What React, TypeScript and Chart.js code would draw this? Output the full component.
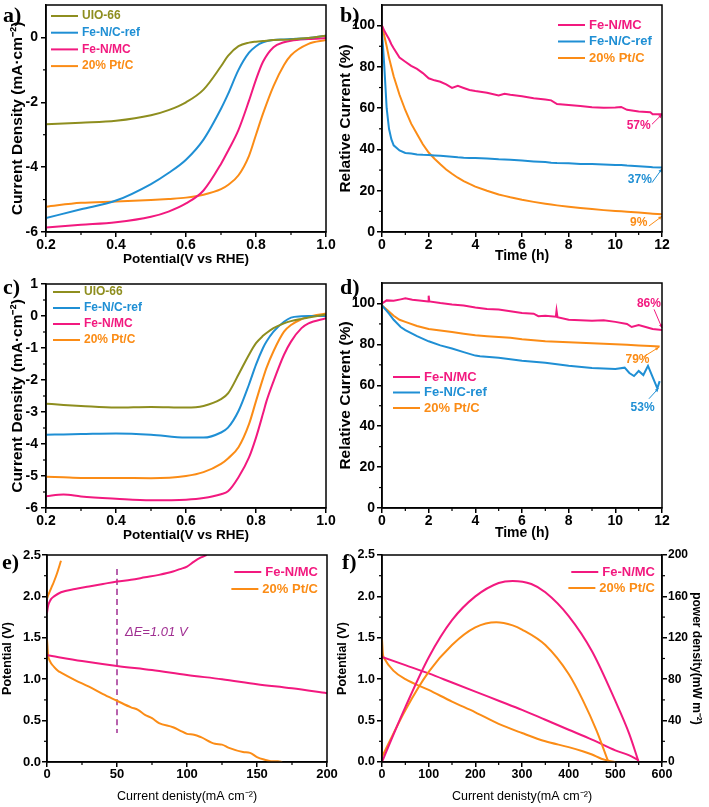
import React, { useEffect, useRef } from "react";
import { Chart, registerables } from "chart.js";

Chart.register(...registerables);

// ---------------- data ----------------
// a) LSV curves
const aPotential = [0.2, 0.3, 0.4, 0.5, 0.55, 0.6, 0.65, 0.7, 0.72, 0.75, 0.78, 0.8, 0.82, 0.85, 0.88, 0.9, 0.95, 1.0];
const aUio = [-2.68, -2.63, -2.57, -2.4, -2.24, -2.0, -1.61, -0.89, -0.57, -0.27, -0.16, -0.13, -0.11, -0.08, -0.07, -0.06, -0.02, 0.05];
const aRef = [-5.57, -5.3, -5.03, -4.52, -4.18, -3.77, -3.15, -2.2, -1.75, -1.0, -0.47, -0.27, -0.15, -0.08, -0.06, -0.05, -0.02, 0.05];
const aMc = [-5.86, -5.78, -5.7, -5.53, -5.37, -5.12, -4.72, -3.9, -3.5, -2.85, -1.95, -1.3, -0.75, -0.3, -0.15, -0.1, -0.05, -0.02];
const aPt = [-5.22, -5.1, -5.06, -5.01, -4.98, -4.94, -4.85, -4.68, -4.55, -4.25, -3.65, -3.0, -2.35, -1.5, -0.85, -0.55, -0.2, -0.08];

// b) chronoamperometry
const bTime = [0, 0.1, 0.2, 0.3, 0.4, 0.5, 0.75, 1, 1.25, 1.5, 1.75, 2, 2.25, 2.5, 2.75, 3, 3.25, 3.5, 3.75, 4, 4.5, 5, 5.25, 5.5, 6, 6.5, 7, 7.25, 7.5, 8, 8.5, 9, 9.5, 10, 10.25, 10.5, 11, 11.5, 11.6, 12];
const bMc = [100, 97.5, 95.5, 93.5, 91, 89, 84.5, 82.5, 80.5, 79, 77, 74.5, 73.5, 72.8, 71.5, 69.8, 70.8, 69.8, 68.8, 68.3, 67.5, 66.2, 67, 66.5, 65.8, 64.8, 64.2, 63.8, 62, 61.5, 61, 60.5, 60.2, 60.3, 60.6, 59.2, 58.4, 58, 57, 57];
const bRef = [97, 80, 60, 50, 45, 42, 39.5, 38.3, 38, 37.6, 37.4, 37.3, 37.1, 36.9, 36.7, 36.5, 36.2, 36, 35.9, 35.8, 35.6, 35.2, 35.1, 35, 34.6, 34.2, 33.9, 33.6, 33.4, 33.3, 33, 32.9, 32.7, 32.5, 32.5, 32.2, 31.9, 31.5, 31.4, 31.2];
const bPt = [100, 95, 90, 84.5, 80, 75.5, 66.5, 59, 52.5, 47.5, 42.5, 38.5, 35.5, 32.8, 30.3, 28.2, 26.3, 24.7, 23.3, 22, 20, 18.2, 17.5, 16.8, 15.6, 14.6, 13.7, 13.3, 12.9, 12.2, 11.6, 11.1, 10.6, 10.2, 10, 9.8, 9.4, 9.0, 8.9, 8.6];

// c) LSV curves
const cPotential = [0.2, 0.25, 0.3, 0.4, 0.5, 0.6, 0.65, 0.7, 0.72, 0.75, 0.78, 0.8, 0.82, 0.83, 0.85, 0.88, 0.9, 0.93, 0.95, 1.0];
const cUio = [-2.74, -2.78, -2.81, -2.86, -2.84, -2.86, -2.81, -2.6, -2.42, -1.83, -1.21, -0.85, -0.62, -0.53, -0.38, -0.23, -0.16, -0.09, -0.05, 0.05];
const cRef = [-3.71, -3.7, -3.69, -3.67, -3.71, -3.8, -3.8, -3.64, -3.49, -2.97, -2.14, -1.52, -1.0, -0.8, -0.49, -0.18, -0.05, -0.01, 0, 0];
const cMc = [-5.63, -5.58, -5.64, -5.71, -5.76, -5.74, -5.69, -5.57, -5.48, -5.04, -4.42, -3.8, -3.05, -2.66, -2.04, -1.21, -0.8, -0.38, -0.23, -0.07];
const cPt = [-5.02, -5.04, -5.06, -5.06, -5.07, -5.0, -4.88, -4.62, -4.45, -4.1, -3.38, -2.66, -1.95, -1.62, -1.1, -0.49, -0.28, -0.1, -0.02, 0.08];

// d) chronoamperometry (second test)
const dMcTime = [0, 0.2, 0.5, 0.8, 1, 1.3, 1.6, 1.98, 2, 2.03, 2.5, 3, 3.5, 4, 4.5, 5, 5.5, 6, 6.5, 6.7, 7, 7.45, 7.48, 7.52, 8, 8.5, 9, 9.5, 10, 10.5, 10.7, 11, 11.3, 11.6, 12];
const dMc = [100, 101.5, 101.3, 102, 102.5, 101.8, 101.5, 101, 103.8, 101, 100.2, 99.5, 99, 98, 97.3, 97, 96.2, 95.3, 95, 93.8, 94, 93.5, 96.5, 93.3, 92, 91.8, 91.5, 91.8, 91, 90, 88.5, 89.5, 88.5, 87.5, 87];
const dRefTime = [0, 0.3, 0.5, 0.8, 1, 1.5, 2, 2.5, 3, 3.5, 4, 4.2, 5, 6, 7, 8, 9, 9.5, 10, 10.4, 10.6, 10.8, 11, 11.2, 11.4, 11.6, 11.8, 11.9];
const dRef = [99, 95, 92, 88.5, 87, 84, 81.5, 79.5, 78, 76.2, 74.5, 74.2, 73.5, 72, 71, 69.5, 68.5, 68.2, 68, 68.6, 66, 64.5, 67, 65, 69.5, 64, 58.5, 62];
const dPtTime = [0, 0.25, 0.5, 0.75, 1, 1.5, 2, 2.5, 3, 3.5, 4, 4.5, 5, 5.5, 6, 6.5, 7, 7.5, 8, 8.5, 9, 9.5, 10, 10.5, 11, 11.5, 11.9];
const dPt = [99, 96.5, 94, 92, 91, 89, 87.5, 86.8, 86, 85.2, 84.5, 84, 83.6, 83.2, 82.5, 82, 81.5, 81.3, 81, 80.8, 80.5, 80.3, 80, 79.8, 79.5, 79.2, 79];

// e) charge / discharge polarization
const eMcChargeX = [0, 0.5, 1, 2, 3, 5, 10, 20, 30, 40, 50, 60, 70, 80, 90, 95, 100, 105, 110, 114];
const eMcChargeY = [1.8, 1.86, 1.9, 1.94, 1.97, 2.0, 2.05, 2.09, 2.12, 2.15, 2.18, 2.2, 2.23, 2.26, 2.3, 2.33, 2.36, 2.42, 2.47, 2.5];
const ePtChargeX = [0, 1, 2, 3, 5, 7, 10];
const ePtChargeY = [1.97, 2.02, 2.06, 2.1, 2.18, 2.27, 2.43];
const eMcDischargeX = [0, 25, 50, 75, 100, 125, 150, 175, 200];
const eMcDischargeY = [1.29, 1.22, 1.16, 1.11, 1.05, 1.0, 0.94, 0.89, 0.83];
const ePtDischargeX = [0, 0.3, 0.7, 2, 5, 8, 10, 20, 30, 40, 50, 60, 65, 70, 75, 80, 90, 95, 100, 105, 110, 120, 125, 130, 140, 145, 150, 155, 160, 165, 168];
const ePtDischargeY = [1.48, 1.4, 1.3, 1.22, 1.15, 1.1, 1.08, 0.99, 0.91, 0.82, 0.74, 0.66, 0.63, 0.57, 0.53, 0.47, 0.42, 0.38, 0.34, 0.33, 0.3, 0.22, 0.21, 0.17, 0.12, 0.11, 0.06, 0.03, 0.01, 0.01, 0];
const eDashX = [50, 50];
const eDashY = [2.33, 0.35];

// f) polarization and power density
const fMcPolX = [0, 50, 100, 150, 200, 250, 300, 350, 400, 450, 500, 530, 550];
const fMcPolY = [1.27, 1.17, 1.07, 0.96, 0.85, 0.74, 0.63, 0.51, 0.39, 0.27, 0.14, 0.08, 0.02];
const fPtPolX = [0, 2, 5, 25, 50, 100, 150, 200, 250, 300, 350, 400, 430, 450, 470, 490, 500];
const fPtPolY = [1.48, 1.3, 1.25, 1.1, 1.0, 0.87, 0.73, 0.6, 0.46, 0.35, 0.25, 0.18, 0.13, 0.09, 0.04, 0.01, 0];
const fMcPowX = [0, 25, 50, 100, 150, 200, 250, 280, 320, 350, 400, 450, 500, 530, 550];
const fMcPowY = [0, 27, 53, 101, 137, 160, 173, 175, 172, 164, 141, 107, 59, 27, 0];
const fPtPowX = [0, 50, 100, 150, 200, 245, 280, 300, 350, 400, 430, 460, 485];
const fPtPowY = [5, 50, 87, 113, 130, 135, 132, 128, 113, 85, 60, 30, 0];

// tick labels
const potentialTicks = [0.2, 0.4, 0.6, 0.8, 1.0];
const aDensityTicks = [-6, -4, -2, 0];
const cDensityTicks = [-6, -5, -4, -3, -2, -1, 0, 1];
const timeTicks = [0, 2, 4, 6, 8, 10, 12];
const relativeTicks = [0, 20, 40, 60, 80, 100];
const eCurrentTicks = [0, 50, 100, 150, 200];
const voltTicks = [0, 0.5, 1.0, 1.5, 2.0, 2.5];
const fCurrentTicks = [0, 100, 200, 300, 400, 500, 600];
const powerTicks = [0, 40, 80, 120, 160, 200];

// ---------------- styling helpers ----------------
const FONT = "'Liberation Sans', Arial, sans-serif";
const C_UIO = "#8e8e1f";
const C_REF = "#1f8fd4";
const C_MC = "#f2197f";
const C_PT = "#fb8c16";
const C_DE = "#a02f92";

const pts = (xs: number[], ys: number[]) => xs.map((x, i) => ({ x, y: ys[i] }));
const fmt0 = (v: number) => String(v);
const fmt1 = (v: number) => v.toFixed(1);

function line(label: string, xs: number[], ys: number[], color: string, extra: any = {}) {
  return {
    label,
    data: pts(xs, ys),
    borderColor: color,
    backgroundColor: color,
    borderWidth: 2,
    pointRadius: 0,
    tension: 0,
    fill: false,
    legend: true,
    ...extra,
  };
}

function axis(o: any) {
  const horizontal = o.position === "bottom" || o.position === "top";
  return {
    type: "linear",
    position: o.position,
    min: o.min,
    max: o.max,
    afterBuildTicks: (s: any) => {
      s.ticks = o.ticks.map((v: number) => ({ value: v }));
    },
    afterFit: (s: any) => {
      if (horizontal) s.height = o.size;
      else s.width = o.size;
      s.paddingTop = 0;
      s.paddingBottom = 0;
      s.paddingLeft = 0;
      s.paddingRight = 0;
    },
    ticks: {
      callback: (v: number) => o.fmt(v),
      font: { family: FONT, size: o.tickSize ?? 14, weight: "bold" },
      color: "#000",
      padding: o.tickPad ?? 2,
      maxRotation: 0,
      minRotation: 0,
      autoSkip: false,
    },
    grid: { display: true, drawOnChartArea: false, drawTicks: true, tickLength: 5, color: "#000", lineWidth: 1.5 },
    border: { display: true, color: "#000", width: 1.5 },
    title: {
      display: true,
      text: o.title,
      font: { family: FONT, size: o.titleSize ?? 13.5, weight: o.titleWeight ?? "bold" },
      color: "#000",
      padding: o.titlePad,
    },
  };
}

const framePlugin = {
  id: "frameMinor",
  afterDraw(chart: any) {
    const { ctx, chartArea: ca } = chart;
    ctx.save();
    ctx.strokeStyle = "#000";
    ctx.lineWidth = 1.5;
    ctx.strokeRect(ca.left, ca.top, ca.right - ca.left, ca.bottom - ca.top);
    ctx.lineWidth = 1.2;
    Object.values(chart.scales).forEach((s: any) => {
      const vals = s.ticks.map((t: any) => t.value);
      for (let i = 0; i < vals.length - 1; i++) {
        const p = s.getPixelForValue((vals[i] + vals[i + 1]) / 2);
        ctx.beginPath();
        if (s.position === "bottom") {
          ctx.moveTo(p, ca.bottom);
          ctx.lineTo(p, ca.bottom + 3);
        } else if (s.position === "left") {
          ctx.moveTo(ca.left, p);
          ctx.lineTo(ca.left - 3, p);
        } else if (s.position === "right") {
          ctx.moveTo(ca.right, p);
          ctx.lineTo(ca.right + 3, p);
        }
        ctx.stroke();
      }
    });
    ctx.restore();
  },
};

function legendPlugin(cfg: { dx: number; dy: number; step: number; align: "left" | "right"; size: number }) {
  return {
    id: "customLegend",
    afterDraw(chart: any) {
      const { ctx, chartArea: ca } = chart;
      const items = chart.data.datasets.filter((d: any) => d.legend);
      const lineLen = 27;
      const gap = 4;
      ctx.save();
      ctx.font = `bold ${cfg.size}px ${FONT}`;
      ctx.textBaseline = "middle";
      ctx.textAlign = "left";
      items.forEach((d: any, i: number) => {
        const y = ca.top + cfg.dy + i * cfg.step;
        let lineX: number, textX: number;
        if (cfg.align === "left") {
          lineX = ca.left + cfg.dx;
          textX = lineX + lineLen + gap;
        } else {
          const w = ctx.measureText(d.label).width;
          textX = ca.right - cfg.dx - w;
          lineX = textX - gap - lineLen;
        }
        ctx.strokeStyle = d.borderColor;
        ctx.lineWidth = 2;
        ctx.beginPath();
        ctx.moveTo(lineX, y);
        ctx.lineTo(lineX + lineLen, y);
        ctx.stroke();
        ctx.fillStyle = d.borderColor;
        ctx.fillText(d.label, textX, y);
      });
      ctx.restore();
    },
  };
}

type Note = { text: string; x: number; y: number; color: string; font?: string; align?: string; arrow?: number[] };

function notesPlugin(notes: Note[]) {
  return {
    id: "notes",
    afterDatasetsDraw(chart: any) {
      const { ctx } = chart;
      const xs = chart.scales.x;
      const ys = chart.scales.y;
      ctx.save();
      notes.forEach((n) => {
        ctx.font = n.font || `bold 12px ${FONT}`;
        ctx.fillStyle = n.color;
        ctx.textAlign = n.align || "center";
        ctx.textBaseline = "middle";
        ctx.fillText(n.text, xs.getPixelForValue(n.x), ys.getPixelForValue(n.y));
        if (n.arrow) {
          const x1 = xs.getPixelForValue(n.arrow[0]);
          const y1 = ys.getPixelForValue(n.arrow[1]);
          const x2 = xs.getPixelForValue(n.arrow[2]);
          const y2 = ys.getPixelForValue(n.arrow[3]);
          ctx.strokeStyle = n.color;
          ctx.lineWidth = 1;
          ctx.beginPath();
          ctx.moveTo(x1, y1);
          ctx.lineTo(x2, y2);
          ctx.stroke();
          const ang = Math.atan2(y2 - y1, x2 - x1);
          const h = 4;
          ctx.beginPath();
          ctx.moveTo(x2, y2);
          ctx.lineTo(x2 - h * Math.cos(ang - 0.45), y2 - h * Math.sin(ang - 0.45));
          ctx.lineTo(x2 - h * Math.cos(ang + 0.45), y2 - h * Math.sin(ang + 0.45));
          ctx.closePath();
          ctx.fill();
        }
      });
      ctx.restore();
    },
  };
}

function baseOptions(padding: any, scales: any) {
  return {
    responsive: false,
    maintainAspectRatio: false,
    animation: false,
    layout: { padding, autoPadding: false },
    plugins: { legend: { display: false }, tooltip: { enabled: false } },
    elements: { line: { cubicInterpolationMode: "monotone" } },
    scales,
  };
}

// ---------------- chart configs ----------------
const buildA = () => ({
  type: "line",
  data: {
    datasets: [
      line("UIO-66", aPotential, aUio, C_UIO),
      line("Fe-N/C-ref", aPotential, aRef, C_REF),
      line("Fe-N/MC", aPotential, aMc, C_MC),
      line("20% Pt/C", aPotential, aPt, C_PT),
    ],
  },
  options: baseOptions({ left: 0, top: 5, right: 14, bottom: 0 }, {
    x: axis({ position: "bottom", min: 0.2, max: 1.0, ticks: potentialTicks, fmt: fmt1, title: "Potential(V vs RHE)", titlePad: { top: 0, bottom: 3 }, size: 38, tickPad: 0 }),
    y: axis({ position: "left", min: -6, max: 1, ticks: aDensityTicks, fmt: fmt0, title: "Current Density (mA·cm⁻²)", titleSize: 15.5, titlePad: { top: 8.5, bottom: 0 }, size: 46, tickPad: 3 }),
  }),
  plugins: [framePlugin, legendPlugin({ dx: 5, dy: 11, step: 16.7, align: "left", size: 12 })],
});

const buildB = () => ({
  type: "line",
  data: {
    datasets: [
      line("Fe-N/MC", bTime, bMc, C_MC, { cubicInterpolationMode: "default" }),
      line("Fe-N/C-ref", bTime, bRef, C_REF, { cubicInterpolationMode: "default" }),
      line("20% Pt/C", bTime, bPt, C_PT, { cubicInterpolationMode: "default" }),
    ],
  },
  options: baseOptions({ left: 0, top: 5, right: 47, bottom: 0 }, {
    x: axis({ position: "bottom", min: 0, max: 12, ticks: timeTicks, fmt: fmt0, title: "Time (h)", titleSize: 14, titlePad: { top: 0, bottom: 5 }, size: 38, tickPad: 0 }),
    y: axis({ position: "left", min: 0, max: 110, ticks: relativeTicks, fmt: fmt0, title: "Relative Current (%)", titleSize: 15.5, titlePad: { top: 2, bottom: 0 }, size: 48, tickPad: 2 }),
  }),
  plugins: [
    framePlugin,
    legendPlugin({ dx: 176, dy: 20, step: 16.5, align: "left", size: 13 }),
    notesPlugin([
      { text: "57%", x: 11.0, y: 51.7, color: C_MC, arrow: [11.57, 52.2, 12.0, 57.0] },
      { text: "37%", x: 11.05, y: 25.4, color: C_REF, arrow: [11.57, 23.9, 12.0, 30.6] },
      { text: "9%", x: 11.0, y: 4.4, color: C_PT, arrow: [11.44, 2.9, 12.0, 7.6] },
    ]),
  ],
});

const buildC = () => ({
  type: "line",
  data: {
    datasets: [
      line("UIO-66", cPotential, cUio, C_UIO),
      line("Fe-N/C-ref", cPotential, cRef, C_REF),
      line("Fe-N/MC", cPotential, cMc, C_MC),
      line("20% Pt/C", cPotential, cPt, C_PT),
    ],
  },
  options: baseOptions({ left: 0, top: 14, right: 14, bottom: 0 }, {
    x: axis({ position: "bottom", min: 0.2, max: 1.0, ticks: potentialTicks, fmt: fmt1, title: "Potential(V vs RHE)", titlePad: { top: 0, bottom: 5 }, size: 40, tickPad: 0 }),
    y: axis({ position: "left", min: -6, max: 1, ticks: cDensityTicks, fmt: fmt0, title: "Current Density (mA·cm⁻²)", titleSize: 15.5, titlePad: { top: 8.5, bottom: 0 }, size: 46, tickPad: 3 }),
  }),
  plugins: [framePlugin, legendPlugin({ dx: 7, dy: 8, step: 16, align: "left", size: 12 })],
});

const buildD = () => ({
  type: "line",
  data: {
    datasets: [
      line("Fe-N/MC", dMcTime, dMc, C_MC, { cubicInterpolationMode: "default" }),
      line("Fe-N/C-ref", dRefTime, dRef, C_REF, { cubicInterpolationMode: "default" }),
      line("20% Pt/C", dPtTime, dPt, C_PT, { cubicInterpolationMode: "default" }),
    ],
  },
  options: baseOptions({ left: 0, top: 13, right: 47, bottom: 0 }, {
    x: axis({ position: "bottom", min: 0, max: 12, ticks: timeTicks, fmt: fmt0, title: "Time (h)", titleSize: 14, titlePad: { top: 0, bottom: 6 }, size: 40, tickPad: 0 }),
    y: axis({ position: "left", min: 0, max: 110, ticks: relativeTicks, fmt: fmt0, title: "Relative Current (%)", titleSize: 15.5, titlePad: { top: 2, bottom: 0 }, size: 48, tickPad: 2 }),
  }),
  plugins: [
    framePlugin,
    legendPlugin({ dx: 11, dy: 94, step: 15.5, align: "left", size: 13 }),
    notesPlugin([
      { text: "86%", x: 11.44, y: 100, color: C_MC, arrow: [11.66, 97.1, 12.0, 88.0] },
      { text: "79%", x: 10.95, y: 72.3, color: C_PT, arrow: [11.19, 73.8, 11.87, 78.6] },
      { text: "53%", x: 11.17, y: 49, color: C_REF, arrow: [11.44, 53.4, 11.85, 58.5] },
    ]),
  ],
});

const buildE = () => ({
  type: "line",
  data: {
    datasets: [
      line("Fe-N/MC", eMcChargeX, eMcChargeY, C_MC),
      line("20% Pt/C", ePtChargeX, ePtChargeY, C_PT),
      line("Fe-N/MC discharge", eMcDischargeX, eMcDischargeY, C_MC, { legend: false }),
      line("20% Pt/C discharge", ePtDischargeX, ePtDischargeY, C_PT, { legend: false }),
      line("ΔE", eDashX, eDashY, C_DE, { legend: false, borderWidth: 1.5, borderDash: [6, 4] }),
    ],
  },
  options: baseOptions({ left: 0, top: 15, right: 13, bottom: 0 }, {
    x: axis({ position: "bottom", min: 0, max: 200, ticks: eCurrentTicks, fmt: fmt0, title: "Current denisty(mA cm⁻²)", titleSize: 12.5, titleWeight: "normal", titlePad: { top: 0, bottom: 3 }, size: 45, tickPad: 0, tickSize: 13 }),
    y: axis({ position: "left", min: 0, max: 2.5, ticks: voltTicks, fmt: fmt1, title: "Potential (V)", titleSize: 12.5, titlePad: { top: 0, bottom: 0 }, size: 47, tickPad: 1, tickSize: 13 }),
  }),
  plugins: [
    framePlugin,
    legendPlugin({ dx: 9, dy: 17, step: 17, align: "right", size: 13 }),
    notesPlugin([{ text: "ΔE=1.01 V", x: 55.7, y: 1.56, color: C_DE, align: "left", font: `italic 13px ${FONT}` }]),
  ],
});

const buildF = () => ({
  type: "line",
  data: {
    datasets: [
      line("Fe-N/MC", fMcPowX, fMcPowY, C_MC, { yAxisID: "y2" }),
      line("20% Pt/C", fPtPowX, fPtPowY, C_PT, { yAxisID: "y2" }),
      line("Fe-N/MC polarization", fMcPolX, fMcPolY, C_MC, { legend: false }),
      line("20% Pt/C polarization", fPtPolX, fPtPolY, C_PT, { legend: false }),
    ],
  },
  options: baseOptions({ left: 0, top: 15, right: 0, bottom: 0 }, {
    x: axis({ position: "bottom", min: 0, max: 600, ticks: fCurrentTicks, fmt: fmt0, title: "Current denisty(mA cm⁻²)", titleSize: 12.5, titleWeight: "normal", titlePad: { top: 0, bottom: 3 }, size: 45, tickPad: 0, tickSize: 12.5 }),
    y: axis({ position: "left", min: 0, max: 2.5, ticks: voltTicks, fmt: fmt1, title: "Potential (V)", titleSize: 12.5, titlePad: { top: 1.5, bottom: 0 }, size: 48, tickPad: 2, tickSize: 12.5 }),
    y2: axis({ position: "right", min: 0, max: 200, ticks: powerTicks, fmt: fmt0, title: "power density(mW m⁻²)", titleSize: 12, titlePad: { top: 5, bottom: 0 }, size: 47, tickPad: 1, tickSize: 12 }),
  }),
  plugins: [framePlugin, legendPlugin({ dx: 7, dy: 17, step: 16, align: "right", size: 13 })],
});

// ---------------- components ----------------
function Panel({ left, top, width, height, build }: { left: number; top: number; width: number; height: number; build: () => any }) {
  const ref = useRef<HTMLCanvasElement>(null);
  useEffect(() => {
    const chart = new Chart(ref.current as HTMLCanvasElement, build());
    return () => chart.destroy();
  }, [build]);
  return (
    <div style={{ position: "absolute", left, top, width, height }}>
      <canvas ref={ref} width={width} height={height} style={{ width, height, display: "block" }} />
    </div>
  );
}

function Letter({ text, left, top }: { text: string; left: number; top: number }) {
  return (
    <div
      style={{
        position: "absolute",
        left,
        top,
        font: "bold 22px 'Liberation Serif', 'Times New Roman', serif",
        lineHeight: "22px",
        color: "#000",
        zIndex: 2,
      }}
    >
      {text}
    </div>
  );
}

export default function App() {
  return (
    <div style={{ position: "absolute", left: 0, top: 0, width: 709, height: 807, background: "#fff", overflow: "hidden" }}>
      <Panel left={0} top={0} width={340} height={270} build={buildA} />
      <Panel left={334} top={0} width={375} height={270} build={buildB} />
      <Panel left={0} top={270} width={340} height={278} build={buildC} />
      <Panel left={334} top={270} width={375} height={278} build={buildD} />
      <Panel left={0} top={540} width={340} height={267} build={buildE} />
      <Panel left={334} top={540} width={375} height={267} build={buildF} />
      <Letter text="a)" left={3} top={4} />
      <Letter text="b)" left={340} top={4} />
      <Letter text="c)" left={3} top={276} />
      <Letter text="d)" left={340} top={276} />
      <Letter text="e)" left={2} top={551} />
      <Letter text="f)" left={342} top={551} />
    </div>
  );
}
